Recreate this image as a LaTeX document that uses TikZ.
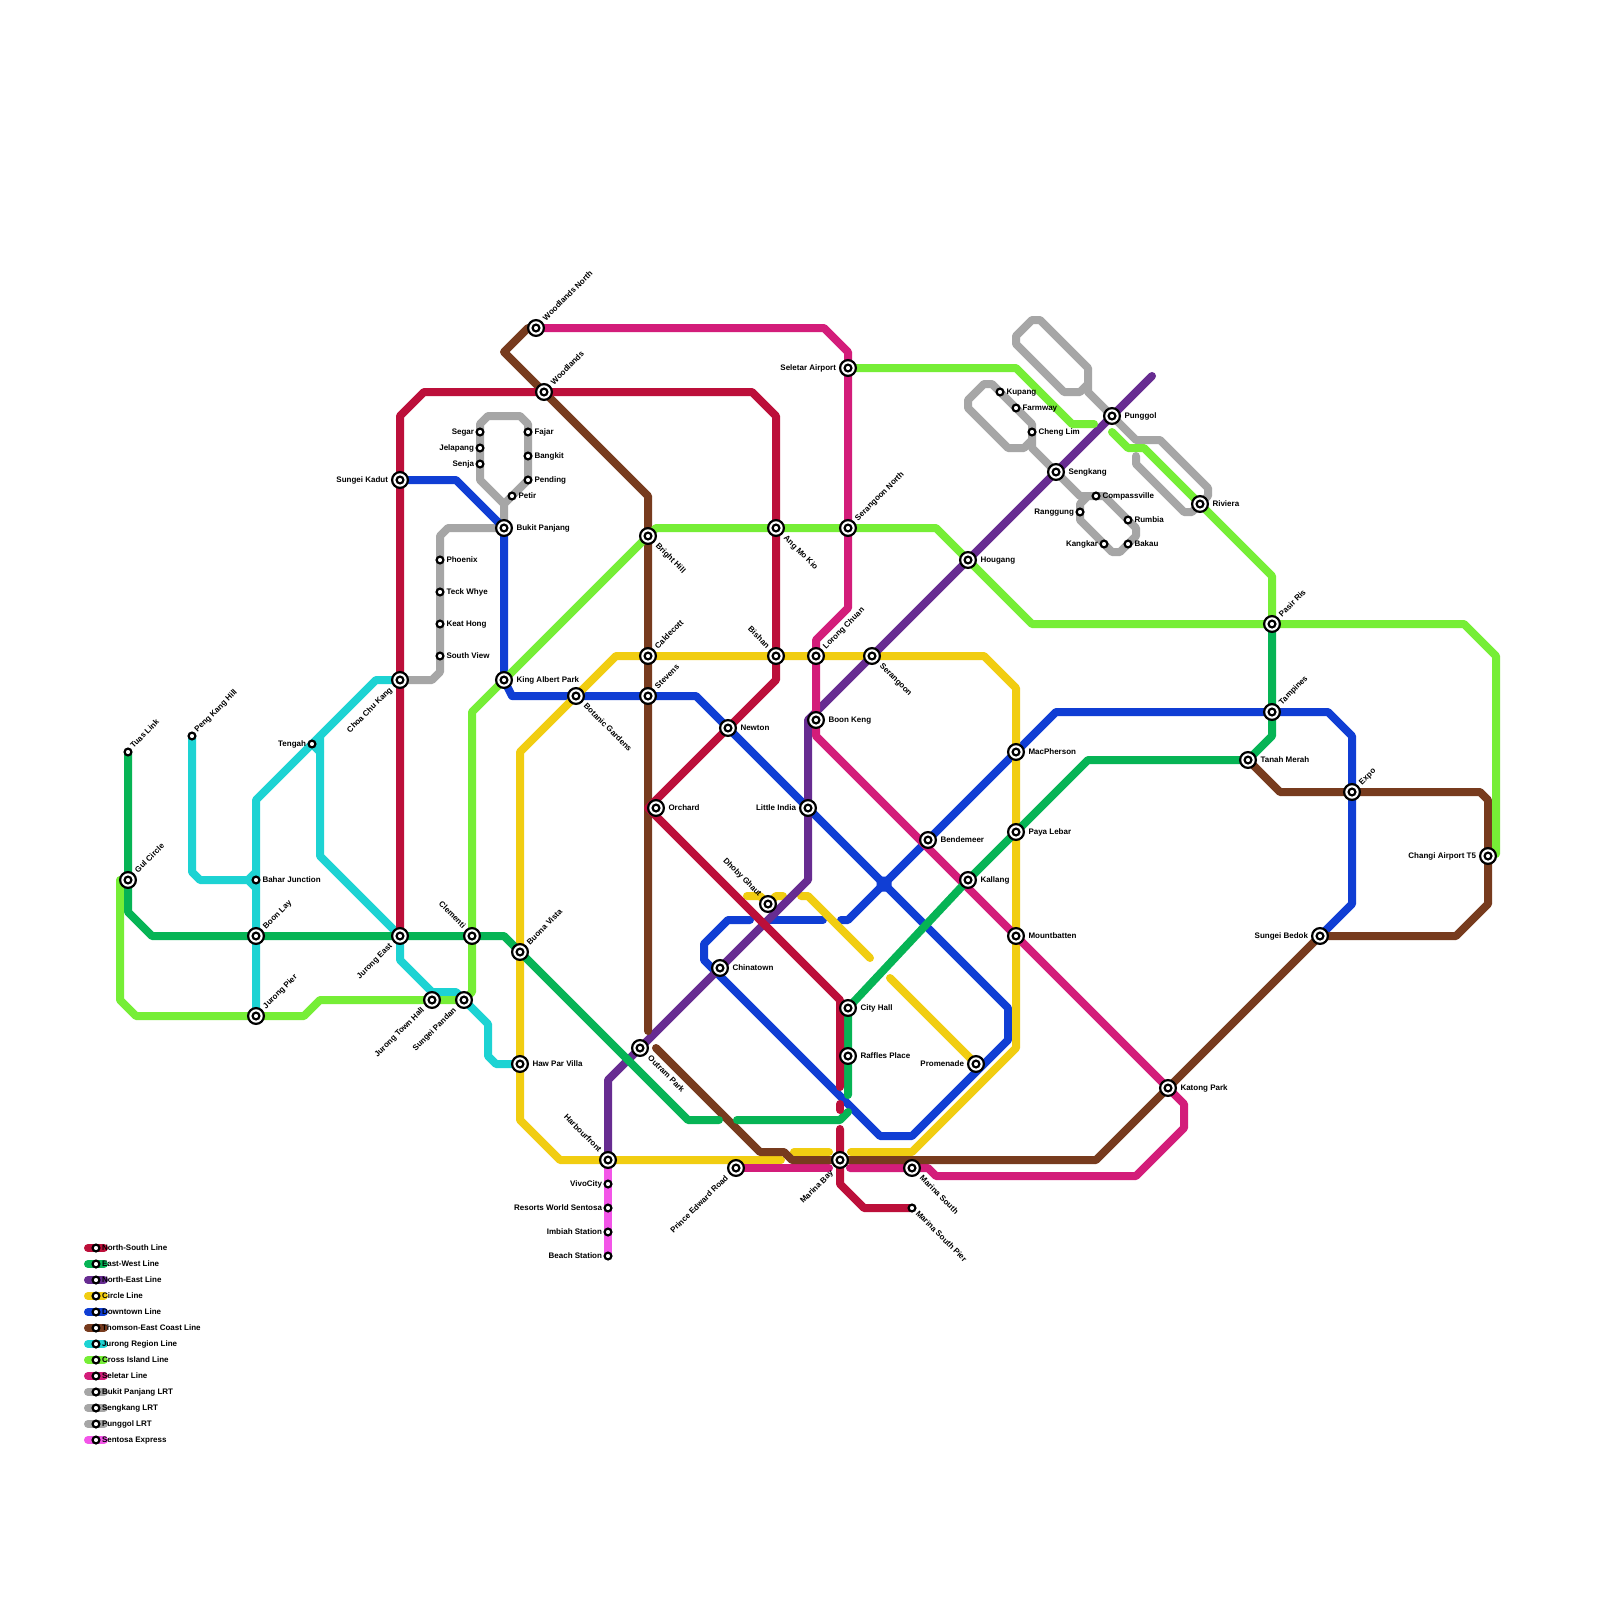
\documentclass[tikz,border=0pt]{standalone}
\usepackage{fontspec}
\setmainfont{Liberation Sans}
\pgfdeclarelayer{lines}
\pgfsetlayers{lines,main}
\definecolor{cNS}{HTML}{BC0F3A}
\definecolor{cEW}{HTML}{06B455}
\definecolor{cNE}{HTML}{672C91}
\definecolor{cCC}{HTML}{F1CD11}
\definecolor{cDT}{HTML}{103ED4}
\definecolor{cTE}{HTML}{773B1E}
\definecolor{cJR}{HTML}{1DD3D3}
\definecolor{cCR}{HTML}{76EE36}
\definecolor{cSL}{HTML}{D31D7A}
\definecolor{cLR}{HTML}{A6A6A6}
\definecolor{cSE}{HTML}{F355E8}
\tikzset{
  mline/.style={line width=4pt,line cap=round,line join=round},
  ns/.style={mline,cNS}, ew/.style={mline,cEW}, ne/.style={mline,cNE}, cc/.style={mline,cCC},
  dt/.style={mline,cDT}, te/.style={mline,cTE}, jr/.style={mline,cJR}, cr/.style={mline,cCR},
  sl/.style={mline,cSL}, lr/.style={mline,cLR}, se/.style={mline,cSE},
  stnI/.style={circle,draw=black,fill=white,line width=1.1pt,minimum size=7.9pt,inner sep=0pt,outer sep=0pt,
    path picture={\draw[black,line width=1.1pt] (path picture bounding box.center) circle (1.7pt);}},
  stnS/.style={circle,draw=black,fill=white,line width=1.1pt,minimum size=3.4pt,inner sep=0pt,outer sep=0pt},
  txt/.style={font=\fontsize{4pt}{4pt}\selectfont\bfseries,inner sep=0pt,outer sep=0pt,text height=2.9pt,text depth=0.6pt,text=black},
  labE/.style={txt,anchor=west},
  labW/.style={txt,anchor=east},
  labNE/.style={txt,anchor=west,rotate=45},
  labSE/.style={txt,anchor=west,rotate=-45},
  labSW/.style={txt,anchor=east,rotate=45},
  labSWb/.style={txt,anchor=east,rotate=45},
  labNW/.style={txt,anchor=east,rotate=-45},
}
\def\dxEI{12.5}\def\dyEI{0}\def\dxWI{-12}\def\dyWI{0}
\def\dxNEI{8.5}\def\dyNEI{-8.5}\def\dxSEI{9}\def\dySEI{9}
\def\dxSWI{-9}\def\dySWI{9}\def\dxNWI{-8}\def\dyNWI{-9}
\def\dxSWbI{-8}\def\dySWbI{12}
\def\dxES{6.5}\def\dyES{0}\def\dxWS{-6}\def\dyWS{0}
\def\dxNES{4}\def\dyNES{-5}\def\dxSES{5}\def\dySES{4.5}
\newcommand\st[6]{\node[stn#1] (#2) at (#3,#4) {};
  \node[lab#5] (#2L) at ({#3+\csname dx#5#1\endcsname},{#4+\csname dy#5#1\endcsname}) {#6};}
\begin{document}
\begin{tikzpicture}[x=0.5pt,y=-0.5pt]
\useasboundingbox (0,0) rectangle (1600,1600);
% stations
\st{S}{TuasL}{128}{752}{NE}{Tuas Link}
\st{I}{Gul}{128}{880}{NE}{Gul Circle}
\st{S}{PengK}{192}{736}{NE}{Peng Kang Hill}
\st{S}{Tengah}{312}{744}{W}{Tengah}
\st{S}{BaharJ}{256}{880}{E}{Bahar Junction}
\st{I}{BoonLay}{256}{936}{NE}{Boon Lay}
\st{I}{JPier}{256}{1016}{NE}{Jurong Pier}
\st{I}{ChoaCK}{400}{680}{SW}{Choa Chu Kang}
\st{I}{JurongE}{400}{936}{SW}{Jurong East}
\st{I}{JTH}{432}{1000}{SW}{Jurong Town Hall}
\st{I}{SPandan}{464}{1000}{SW}{Sungei Pandan}
\st{I}{Clementi}{472}{936}{NW}{Clementi}
\st{I}{BuonaV}{520}{952}{NE}{Buona Vista}
\st{I}{HawPar}{520}{1064}{E}{Haw Par Villa}
\st{I}{Harbour}{608}{1160}{NW}{Harbourfront}
\st{S}{VivoC}{608}{1184}{W}{VivoCity}
\st{S}{RWS}{608}{1208}{W}{Resorts World Sentosa}
\st{S}{Imbiah}{608}{1232}{W}{Imbiah Station}
\st{S}{Beach}{608}{1256}{W}{Beach Station}
\st{I}{Outram}{640}{1048}{SE}{Outram Park}
\st{I}{Chinatown}{720}{968}{E}{Chinatown}
\st{I}{PrinceE}{736}{1168}{SW}{Prince Edward Road}
\st{I}{MarinaB}{840}{1160}{SWb}{Marina Bay}
\st{I}{MarinaS}{912}{1168}{SE}{Marina South}
\st{S}{MSP}{912}{1208}{SE}{Marina South Pier}
\st{I}{CityH}{848}{1008}{E}{City Hall}
\st{I}{Raffles}{848}{1056}{E}{Raffles Place}
\st{I}{Promenade}{976}{1064}{W}{Promenade}
\st{I}{Dhoby}{768}{904}{NW}{Dhoby Ghaut}
\st{I}{Orchard}{656}{808}{E}{Orchard}
\st{I}{Newton}{728}{728}{E}{Newton}
\st{I}{LittleI}{808}{808}{W}{Little India}
\st{I}{BoonK}{816}{720}{E}{Boon Keng}
\st{I}{Bendemeer}{928}{840}{E}{Bendemeer}
\st{I}{Kallang}{968}{880}{E}{Kallang}
\st{I}{PayaL}{1016}{832}{E}{Paya Lebar}
\st{I}{MacPh}{1016}{752}{E}{MacPherson}
\st{I}{Mountb}{1016}{936}{E}{Mountbatten}
\st{I}{Katong}{1168}{1088}{E}{Katong Park}
\st{I}{SBedok}{1320}{936}{W}{Sungei Bedok}
\st{I}{Expo}{1352}{792}{NE}{Expo}
\st{I}{Changi}{1488}{856}{W}{Changi Airport T5}
\st{I}{TanahM}{1248}{760}{E}{Tanah Merah}
\st{I}{Tampines}{1272}{712}{NE}{Tampines}
\st{I}{PasirR}{1272}{624}{NE}{Pasir Ris}
\st{I}{Riviera}{1200}{504}{E}{Riviera}
\st{I}{Bishan}{776}{656}{NW}{Bishan}
\st{I}{LorongC}{816}{656}{NE}{Lorong Chuan}
\st{I}{Serangoon}{872}{656}{SE}{Serangoon}
\st{I}{Hougang}{968}{560}{E}{Hougang}
\st{I}{Sengkang}{1056}{472}{E}{Sengkang}
\st{I}{Punggol}{1112}{416}{E}{Punggol}
\st{S}{Kupang}{1000}{392}{E}{Kupang}
\st{S}{Farmway}{1016}{408}{E}{Farmway}
\st{S}{ChengL}{1032}{432}{E}{Cheng Lim}
\st{S}{Compass}{1096}{496}{E}{Compassville}
\st{S}{Rumbia}{1128}{520}{E}{Rumbia}
\st{S}{Bakau}{1128}{544}{E}{Bakau}
\st{S}{Ranggung}{1080}{512}{W}{Ranggung}
\st{S}{Kangkar}{1104}{544}{W}{Kangkar}
\st{I}{AngMoK}{776}{528}{SE}{Ang Mo Kio}
\st{I}{SerN}{848}{528}{NE}{Serangoon North}
\st{I}{SelAir}{848}{368}{W}{Seletar Airport}
\st{I}{BrightH}{648}{536}{SE}{Bright Hill}
\st{I}{Caldecott}{648}{656}{NE}{Caldecott}
\st{I}{Stevens}{648}{696}{NE}{Stevens}
\st{I}{Botanic}{576}{696}{SE}{Botanic Gardens}
\st{I}{KingAP}{504}{680}{E}{King Albert Park}
\st{I}{BukitP}{504}{528}{E}{Bukit Panjang}
\st{I}{Woodlands}{544}{392}{NE}{Woodlands}
\st{I}{WoodN}{536}{328}{NE}{Woodlands North}
\st{I}{SungeiK}{400}{480}{W}{Sungei Kadut}
\st{S}{Segar}{480}{432}{W}{Segar}
\st{S}{Jelapang}{480}{448}{W}{Jelapang}
\st{S}{Senja}{480}{464}{W}{Senja}
\st{S}{Fajar}{528}{432}{E}{Fajar}
\st{S}{Bangkit}{528}{456}{E}{Bangkit}
\st{S}{Pending}{528}{480}{E}{Pending}
\st{S}{Petir}{512}{496}{E}{Petir}
\st{S}{Phoenix}{440}{560}{E}{Phoenix}
\st{S}{TeckW}{440}{592}{E}{Teck Whye}
\st{S}{KeatH}{440}{624}{E}{Keat Hong}
\st{S}{SouthV}{440}{656}{E}{South View}
% legend stations
\foreach \i/\n/\t in {0/a/North-South Line,1/b/East-West Line,2/c/North-East Line,3/d/Circle Line,4/e/Downtown Line,5/f/Thomson-East Coast Line,6/g/Jurong Region Line,7/h/Cross Island Line,8/j/Seletar Line,9/k/Bukit Panjang LRT,10/l/Sengkang LRT,11/m/Punggol LRT,12/n/Sentosa Express}{
  \node[stnS] (leg\n) at (96,{1248+16*\i}) {};
  \node[labE] (leg\n L) at (102,{1248+16*\i}) {\t};
}
\begin{pgfonlayer}{lines}
\fill[white] (0,0) rectangle (1600,1600);
% LRT
\draw[lr] (ChoaCK.center) -- (432,680) -- (440,672) -- (SouthV.center) -- (KeatH.center) -- (TeckW.center) -- (Phoenix.center) -- (440,536) -- (448,528) -- (BukitP.center);
\draw[lr] (BukitP.center) -- (504,504) -- (480,480) -- (Senja.center) -- (Jelapang.center) -- (Segar.center) -- (480,424) -- (488,416) -- (520,416) -- (528,424) -- (Fajar.center) -- (Bangkit.center) -- (Pending.center) -- (Petir.center) -- (504,504);
\draw[lr] (Sengkang.center) -- (1032,448) -- (ChengL.center) -- (1032,424) -- (Farmway.center) -- (Kupang.center) -- (992,384) -- (984,384) -- (968,400) -- (968,408) -- (1008,448) -- (1024,448) -- (1032,440);
\draw[lr] (Sengkang.center) -- (1080,496) -- (1104,496) -- (Rumbia.center) -- (1136,528) -- (1136,536) -- (Bakau.center) -- (1120,552) -- (1112,552) -- (Kangkar.center) -- (1080,520) -- (Ranggung.center) -- (1080,504) -- (1088,496);
\draw[lr] (Punggol.center) -- (1088,392) -- (1088,368) -- (1040,320) -- (1032,320) -- (1016,336) -- (1016,344) -- (1064,392) -- (1080,392) -- (1088,384);
\draw[lr] (Punggol.center) -- (1136,440) -- (1160,440) -- (1208,488) -- (1208,496) -- (Riviera.center) -- (1192,512) -- (1184,512) -- (1136,464) -- (1136,456);
% Sentosa
\draw[se] (Harbour.center) -- (VivoC.center) -- (RWS.center) -- (Imbiah.center) -- (Beach.center);
% Downtown
\draw[dt] (SungeiK.center) -- (456,480) -- (BukitP.center) -- (KingAP.center) -- (512,696) -- (Botanic.center) -- (Stevens.center) -- (696,696) -- (Newton.center) -- (LittleI.center) -- (1008,1008) -- (1008,1040) -- (912,1136) -- (880,1136) -- (704,960) -- (704,944) -- (728,920) -- (750,920);
\draw[dt] (770,920) -- (823,920);
\draw[dt] (841,920) -- (848,920) -- (Bendemeer.center) -- (MacPh.center) -- (1056,712) -- (1328,712) -- (1352,736) -- (Expo.center) -- (1352,904) -- (SBedok.center);
\fill[cDT,rounded corners=0.8pt] (876.5,876.5) rectangle (891.5,891.5);
% Circle
\draw[cc] (747,896) -- (760,896) -- (Dhoby.center) -- (776,896) -- (783,896);
\draw[cc] (801,896) -- (808,896) -- (870,958);
\draw[cc] (890,978) -- (Promenade.center);
\draw[cc] (781,1160) -- (Harbour.center) -- (560,1160) -- (520,1120) -- (HawPar.center) -- (BuonaV.center) -- (520,752) -- (616,656) -- (Caldecott.center) -- (Bishan.center) -- (LorongC.center) -- (Serangoon.center) -- (984,656) -- (1016,688) -- (MacPh.center) -- (PayaL.center) -- (Mountb.center) -- (1016,1048) -- (912,1152) -- (851,1152);
\draw[cc] (794,1152) -- (829,1152);
% North-East
\draw[ne] (Harbour.center) -- (608,1080) -- (Outram.center) -- (Chinatown.center) -- (808,880) -- (LittleI.center) -- (808,720) -- (Serangoon.center) -- (Hougang.center) -- (Sengkang.center) -- (Punggol.center) -- (1152,376);
% Seletar
\draw[sl] (WoodN.center) -- (824,328) -- (848,352) -- (SelAir.center) -- (SerN.center) -- (848,608) -- (816,640) -- (LorongC.center) -- (BoonK.center) -- (816,736) -- (Mountb.center) -- (Katong.center) -- (1184,1104) -- (1184,1128) -- (1136,1176) -- (936,1176) -- (928,1168) -- (MarinaS.center) -- (850,1168);
\draw[sl] (829,1168) -- (PrinceE.center);
% Thomson-East Coast
\draw[te] (WoodN.center) -- (528,328) -- (504,352) -- (Woodlands.center) -- (648,496) -- (BrightH.center) -- (Caldecott.center) -- (Stevens.center) -- (648,1031);
\draw[te] (656,1048) -- (760,1152) -- (784,1152) -- (792,1160) -- (1096,1160) -- (Katong.center) -- (SBedok.center) -- (1456,936) -- (1488,904) -- (1488,800) -- (1480,792) -- (Expo.center) -- (1280,792) -- (TanahM.center);
% Jurong Region
\draw[jr] (PengK.center) -- (192,872) -- (200,880) -- (248,880) -- (256,888) -- (BoonLay.center) -- (JPier.center);
\draw[jr] (248,880) -- (256,872) -- (256,888);
\draw[jr] (256,872) -- (256,800) -- (Tengah.center) -- (376,680) -- (ChoaCK.center);
\draw[jr] (Tengah.center) -- (320,752);
\draw[jr] (320,736) -- (320,856) -- (JurongE.center) -- (400,960) -- (432,992) -- (456,992) -- (488,1024) -- (488,1056) -- (496,1064) -- (HawPar.center);
% Cross Island
\draw[cr] (Gul.center) -- (120,880) -- (120,1000) -- (136,1016) -- (JPier.center) -- (304,1016) -- (320,1000) -- (JTH.center) -- (SPandan.center) -- (472,992) -- (Clementi.center) -- (472,712) -- (KingAP.center) -- (BrightH.center) -- (656,528) -- (AngMoK.center) -- (SerN.center) -- (936,528) -- (Hougang.center) -- (1032,624) -- (PasirR.center) -- (1464,624) -- (1496,656) -- (1496,854);
\draw[cr] (SelAir.center) -- (1016,368) -- (1072,424) -- (1094,424);
\draw[cr] (1112,432) -- (1128,448) -- (1144,448) -- (Riviera.center) -- (1272,576) -- (PasirR.center);
% East-West
\draw[ew] (TuasL.center) -- (Gul.center) -- (128,912) -- (152,936) -- (BoonLay.center) -- (JurongE.center) -- (Clementi.center) -- (504,936) -- (BuonaV.center) -- (688,1120) -- (719,1120);
\draw[ew] (737,1120) -- (840,1120) -- (848,1112);
\draw[ew] (848,1095) -- (Raffles.center) -- (CityH.center) -- (Kallang.center) -- (PayaL.center) -- (1088,760) -- (TanahM.center) -- (1272,736) -- (Tampines.center) -- (PasirR.center);
% North-South
\draw[ns] (JurongE.center) -- (SungeiK.center) -- (400,416) -- (424,392) -- (Woodlands.center) -- (752,392) -- (776,416) -- (AngMoK.center) -- (Bishan.center) -- (776,680) -- (Newton.center) -- (648,808) -- (840,1000) -- (840,1087);
\draw[ns] (840,1104) -- (840,1110);
\draw[ns] (840,1129) -- (MarinaB.center) -- (840,1184) -- (864,1208) -- (MSP.center);
% legend bars
\draw[ns] (88,1248) -- (lega.center) -- (104,1248);
\draw[ew] (88,1264) -- (legb.center) -- (104,1264);
\draw[ne] (88,1280) -- (legc.center) -- (104,1280);
\draw[cc] (88,1296) -- (legd.center) -- (104,1296);
\draw[dt] (88,1312) -- (lege.center) -- (104,1312);
\draw[te] (88,1328) -- (legf.center) -- (104,1328);
\draw[jr] (88,1344) -- (legg.center) -- (104,1344);
\draw[cr] (88,1360) -- (legh.center) -- (104,1360);
\draw[sl] (88,1376) -- (legj.center) -- (104,1376);
\draw[lr] (88,1392) -- (legk.center) -- (104,1392);
\draw[lr] (88,1408) -- (legl.center) -- (104,1408);
\draw[lr] (88,1424) -- (legm.center) -- (104,1424);
\draw[se] (88,1440) -- (legn.center) -- (104,1440);
\end{pgfonlayer}
\end{tikzpicture}
\end{document}
